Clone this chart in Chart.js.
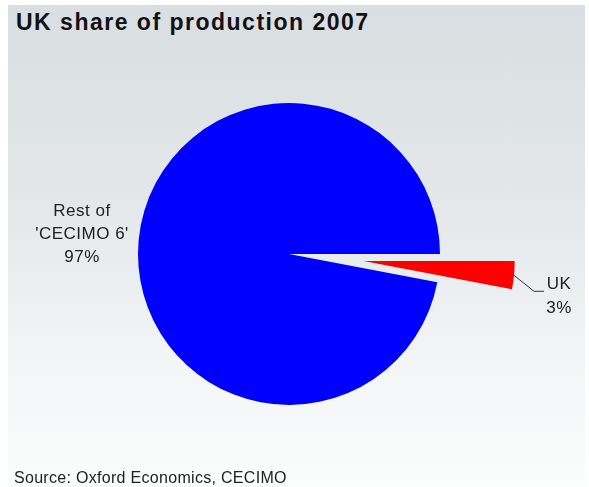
<!DOCTYPE html>
<html>
<head>
<meta charset="utf-8">
<script src="https://cdn.jsdelivr.net/npm/chart.js@4/dist/chart.umd.min.js"></script>
<style>
  html, body { margin: 0; padding: 0; background: #ffffff; }
  #wrap { position: relative; width: 589px; height: 487px; overflow: hidden; background: #ffffff; }
  #panel { position: absolute; left: 8px; top: 5px; width: 577px; height: 482px;
    background: linear-gradient(to bottom, #d8dee1 0%, #e3e7ea 40%, #f3f5f6 75%, #fbfcfc 100%); }
  #title { position: absolute; left: 16px; top: 9px; font: bold 23px "Liberation Sans", Arial, sans-serif; letter-spacing: 1.5px; color: #111; }
  #source { position: absolute; left: 14px; top: 469px; font: 16px "Liberation Sans", Arial, sans-serif; letter-spacing: 0.3px; color: #222; }
  #c { position: absolute; left: 0; top: 0; }
</style>
</head>
<body>
<div id="wrap">
  <div id="panel"></div>
  <div id="title">UK share of production 2007</div>
  <canvas id="c" width="589" height="487"></canvas>
  <div id="source">Source: Oxford Economics, CECIMO</div>
</div>
<script>
const categories = ["UK", "Rest of 'CECIMO 6'"];
const shares = [3, 97];
const labelLines = [["UK", "3%"], ["Rest of", "'CECIMO 6'", "97%"]];
const colors = ["#ff0000", "#0000ff"];

const PIE_RADIUS = 151;
const UK_SHIFT = 75; // pixels the UK slice is pulled out

// Chart.js draws an offset arc translated by offset/4, enlarged by (offset/4)*(1-sin(circ))
// and narrowed by that radial offset; compensate so the exploded slice keeps
// the pie's radius and its true angular width.
const keepGeometry = {
  id: 'keepGeometry',
  beforeDatasetsDraw(chart) {
    const meta = chart.getDatasetMeta(0);
    meta.data.forEach(arc => {
      const off = (arc.options.offset || 0) / 4;
      if (!off) return;
      const fix = 1 - Math.sin(Math.min(Math.PI, arc.circumference || 0));
      const ro = off * fix;
      arc.outerRadius = PIE_RADIUS - ro;
      const widen = ro / (Math.PI * PIE_RADIUS) / 2;
      arc.startAngle -= widen;
      arc.endAngle += widen;
    });
  }
};

const labelPlugin = {
  id: 'sliceLabels',
  afterDatasetsDraw(chart) {
    const ctx = chart.ctx;
    const meta = chart.getDatasetMeta(0);
    ctx.save();
    ctx.font = '17px "Liberation Sans", Arial, sans-serif';
    if ('letterSpacing' in ctx) ctx.letterSpacing = '0.5px';
    ctx.fillStyle = '#222';
    ctx.textAlign = 'center';
    ctx.textBaseline = 'middle';
    const uk = meta.data[0];
    const off = (uk.options.offset || 0) / 4;
    const mid = (uk.startAngle + uk.endAngle) / 2;
    const cx = uk.x + Math.cos(mid) * off, cy = uk.y + Math.sin(mid) * off;
    const ax = cx + Math.cos(mid) * PIE_RADIUS, ay = cy + Math.sin(mid) * PIE_RADIUS;
    ctx.strokeStyle = '#333';
    ctx.lineWidth = 1;
    ctx.beginPath();
    ctx.moveTo(ax, ay);
    ctx.lineTo(ax + 20, ay + 16);
    ctx.lineTo(ax + 30, ay + 16);
    ctx.stroke();
    const ux = ax + 45, uy = ay + 9;
    labelLines[0].forEach((t, i) => ctx.fillText(t, ux, uy + i * 24));
    const rest = meta.data[1];
    const rx = rest.x - PIE_RADIUS - 56, ry = rest.y - 43;
    labelLines[1].forEach((t, i) => ctx.fillText(t, rx, ry + i * 23));
    ctx.restore();
  }
};

new Chart(document.getElementById('c'), {
  type: 'pie',
  data: {
    labels: categories,
    datasets: [{
      data: shares,
      backgroundColor: colors,
      borderWidth: 0,
      offset: [UK_SHIFT * 4, 0],
      radius: PIE_RADIUS
    }]
  },
  options: {
    responsive: false,
    animation: false,
    rotation: 90,
    layout: { padding: { left: 0, right: 11, top: 21, bottom: 0 } },
    plugins: { legend: { display: false }, tooltip: { enabled: false }, title: { display: false } }
  },
  plugins: [keepGeometry, labelPlugin]
});
</script>
</body>
</html>
